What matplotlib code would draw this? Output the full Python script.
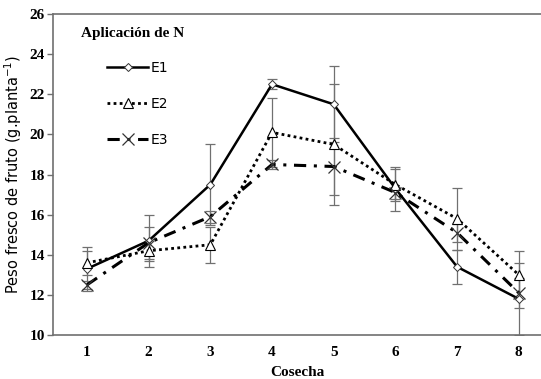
import numpy as np
from matplotlib import pyplot as plt

# Harvest number (Cosecha)
cosecha = [1, 2, 3, 4, 5, 6, 7, 8]

# Fruit fresh weight per treatment (g.planta-1)
e1 = [13.3, 14.7, 17.5, 22.5, 21.5, 17.3, 13.4, 11.8]
e2 = [13.6, 14.2, 14.5, 20.1, 19.5, 17.5, 15.8, 13.0]
e3 = [12.5, 14.6, 15.9, 18.5, 18.4, 17.1, 15.1, 12.1]

# Error bar half-widths
e1_err = [1.1, 1.3, 2.0, 0.25, 1.9, 1.1, 0.85, 1.8]
e2_err = [0.6, 0.5, 0.9, 1.7, 3.0, 0.8, 1.55, 1.2]
e3_err = [0.2, 0.8, 0.3, 0.2, 1.4, 0.3, 0.45, 0.75]

y_ticks = [10, 12, 14, 16, 18, 20, 22, 24, 26]


def main():
    fig = plt.figure(figsize=(5.41, 3.79), dpi=100)
    ax = fig.add_axes([0.098, 0.116, 0.902, 0.847])

    err_kw = dict(fmt='none', ecolor='#707070', elinewidth=0.9, capsize=3.5, capthick=0.9, zorder=2)
    ax.errorbar(cosecha, e1, yerr=e1_err, **err_kw)
    ax.errorbar(cosecha, e2, yerr=e2_err, **err_kw)
    ax.errorbar(cosecha, e3, yerr=e3_err, **err_kw)

    ax.plot(cosecha, e1, color='black', lw=1.8, ls='-', marker='D', ms=4.5,
            mfc='white', mec='#333333', mew=0.7, label='E1', zorder=3)
    ax.plot(cosecha, e2, color='black', lw=2.0, ls=(0, (1, 1.2)), marker='^', ms=6.5,
            mfc='white', mec='black', mew=0.8, label='E2', zorder=3)
    ax.plot(cosecha, e3, color='black', lw=2.2, ls=(0, (4, 2.5, 1, 2.5)), marker='x', ms=8,
            mec='#333333', mew=0.9, label='E3', zorder=3)

    ax.set_xlim(0.45, 8.36)
    ax.set_ylim(10, 26)
    ax.set_yticks(y_ticks)
    ax.set_xticks(cosecha)

    for side in ['left', 'bottom', 'top']:
        ax.spines[side].set_color('#707070')
        ax.spines[side].set_linewidth(1.2)
    ax.spines['right'].set_visible(False)

    ax.tick_params(axis='y', direction='out', length=4, width=1, color='#707070', pad=2)
    ax.tick_params(axis='x', length=0, pad=8)
    for lbl in ax.get_xticklabels() + ax.get_yticklabels():
        lbl.set_fontfamily('Liberation Serif')
        lbl.set_fontweight('bold')
        lbl.set_fontsize(11)

    ax.set_xlabel('Cosecha', fontfamily='Liberation Serif', fontweight='bold', fontsize=11, labelpad=5)
    ax.set_ylabel('Peso fresco de fruto (g.planta$^{-1}$)', fontfamily='DejaVu Sans', fontsize=10.5, labelpad=4)

    ax.text(0.058, 0.94, 'Aplicación de N', transform=ax.transAxes, fontfamily='Liberation Serif',
            fontweight='bold', fontsize=11, va='center', ha='left')
    ax.legend(loc='upper left', bbox_to_anchor=(0.1, 0.872), frameon=False, fontsize=10,
              handlelength=2.9, handletextpad=0.2, labelspacing=1.6, borderaxespad=0)

    fig.savefig('out.png', dpi=100)


main()
